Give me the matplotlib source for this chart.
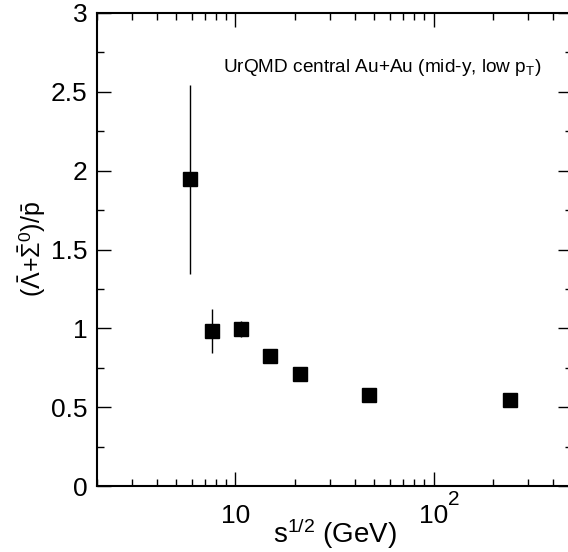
import numpy as np
import matplotlib.pyplot as plt
from matplotlib.ticker import FixedLocator, MultipleLocator, NullFormatter, FuncFormatter

plt.rcParams['font.family'] = ['Liberation Sans', 'DejaVu Sans']
plt.rcParams['mathtext.fontset'] = 'custom'
plt.rcParams['mathtext.rm'] = 'Liberation Sans'
plt.rcParams['mathtext.it'] = 'Liberation Sans:italic'
plt.rcParams['mathtext.bf'] = 'Liberation Sans:bold'

# sqrt(s) energies (GeV) and ratio values
sqrt_s = [5.9, 7.65, 10.7, 14.9, 21.1, 47.0, 242.0]
ratio = [1.945, 0.983, 0.995, 0.824, 0.708, 0.577, 0.545]
ratio_err = [0.60, 0.14, 0.05, 0.0, 0.0, 0.0, 0.0]

fig = plt.figure(figsize=(5.68, 5.52), dpi=100)
ax = fig.add_axes([97 / 568, 66 / 552, 475 / 568, 473 / 552])

ax.errorbar(sqrt_s, ratio, yerr=ratio_err, fmt='s', color='black',
            ms=10, elinewidth=1.0, capsize=0, mec='black', mfc='black')

ax.set_xscale('log')
ax.set_xlim(2, 500)
ax.set_ylim(0, 3)

ax.xaxis.set_major_locator(FixedLocator([10, 100]))
ax.xaxis.set_minor_locator(FixedLocator(
    [m * 10 ** e for e in range(0, 3) for m in range(2, 10)]))
ax.xaxis.set_minor_formatter(NullFormatter())
ax.xaxis.set_major_formatter(FuncFormatter(lambda v, p: '10'))
# exponent of the 10^2 label, drawn large like the original
ax.annotate('2', xy=(100, 0), xycoords=('data', 'axes fraction'),
            xytext=(10.5, -10), textcoords='offset points',
            ha='left', va='center', fontsize=15)

ax.yaxis.set_major_locator(MultipleLocator(0.5))
ax.yaxis.set_minor_locator(MultipleLocator(0.25))
ax.yaxis.set_major_formatter(FuncFormatter(lambda v, p: f'{v:g}'))

ax.tick_params(which='both', direction='in', top=True, right=True,
               labelsize=19, width=1.0)
ax.tick_params(axis='x', pad=13)
ax.tick_params(axis='y', pad=7)
ax.tick_params(which='major', length=10)
ax.tick_params(which='minor', length=5)
for s in ax.spines.values():
    s.set_linewidth(1.5)

ax.set_xlabel('s$^{1/2}$ (GeV)', fontsize=20)
ax.xaxis.set_label_coords(0.5, -0.064)
ax.set_ylabel(r'$(\bar{\Lambda}$+$\bar{\Sigma}^{0})/\bar{\mathrm{p}}$',
              fontsize=18)
ax.yaxis.set_label_coords(-0.103, 0.5)

ax.text(0.935, 0.885, r'UrQMD central Au+Au (mid-y, low p$_{\mathrm{T}}$)',
        transform=ax.transAxes, ha='right', va='center', fontsize=13.7)

fig.savefig('out.png', dpi=100)
